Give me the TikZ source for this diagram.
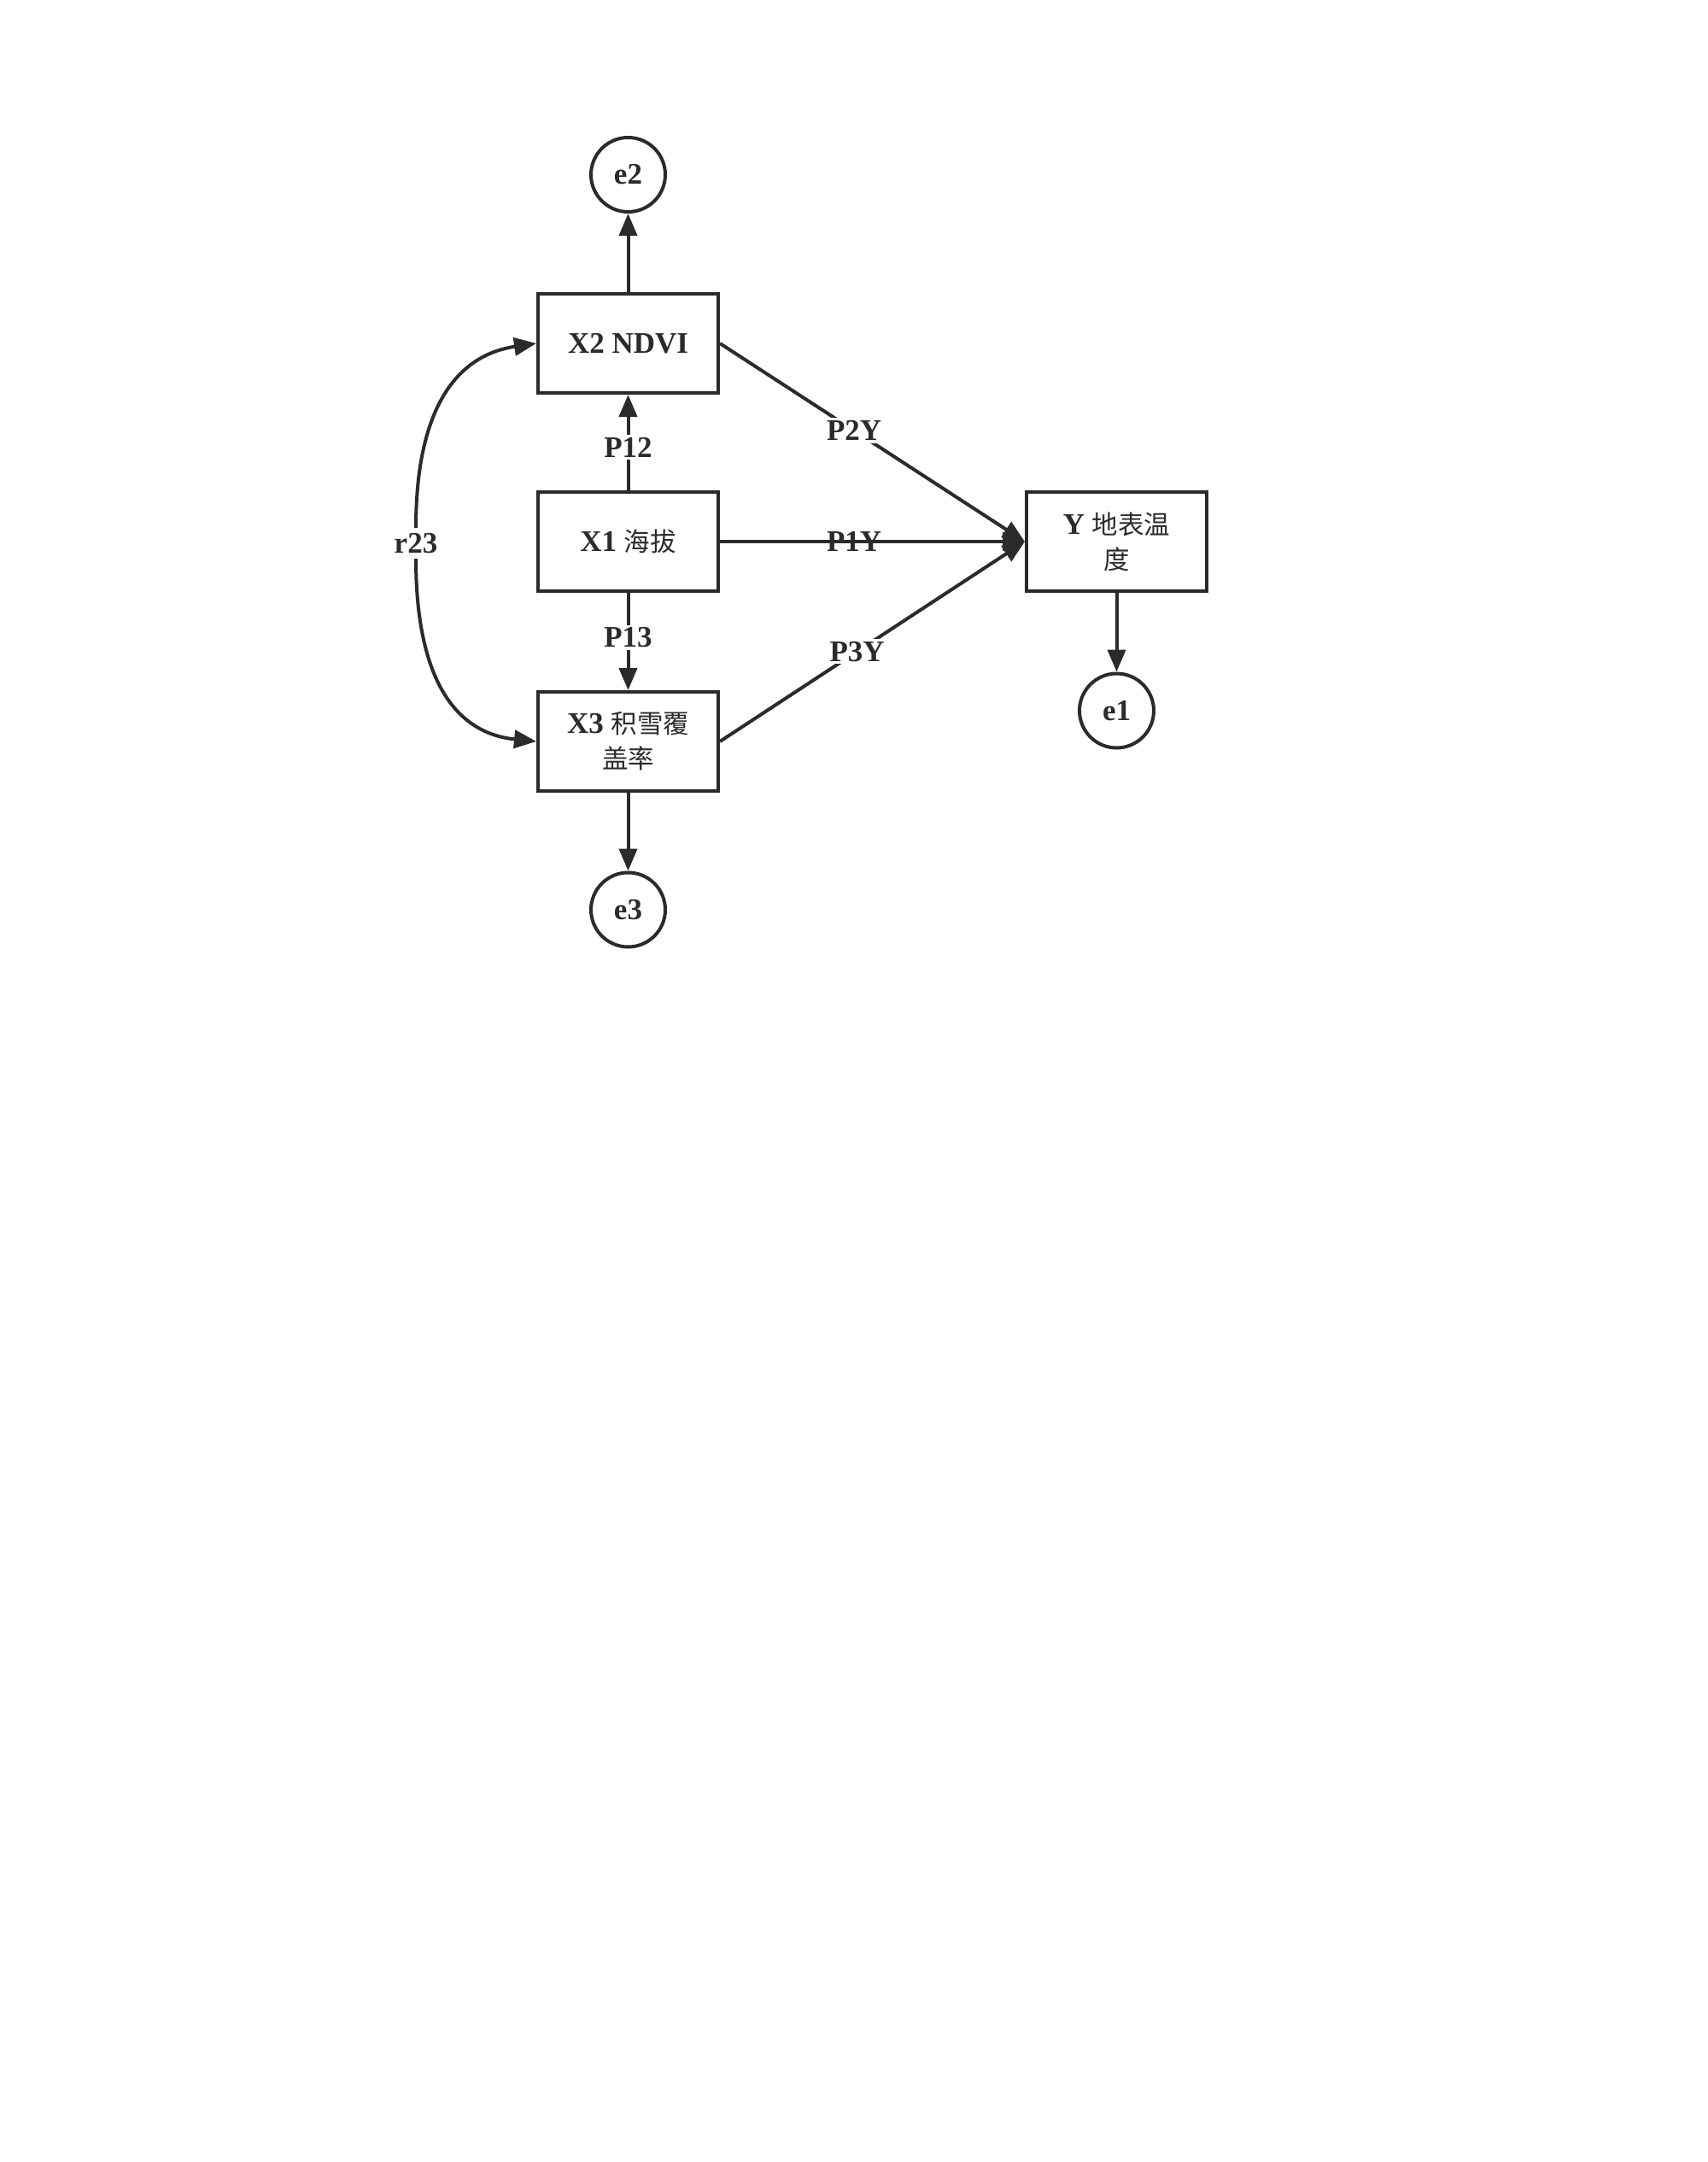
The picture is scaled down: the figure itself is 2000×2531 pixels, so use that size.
\documentclass[tikz,border=0pt]{standalone}
\usepackage{fontspec}
\setmainfont{Liberation Serif}
\newfontfamily\cjk[Scale=0.87]{Noto Sans CJK SC}
\usetikzlibrary{arrows.meta,shapes.geometric}
\definecolor{lc}{HTML}{2B2B2B}
\tikzset{
  box/.style={draw=lc, line width=2pt, minimum width=105.5pt, minimum height=58pt, align=center, inner sep=2pt, text=lc, font=\fontsize{17.5}{20.5}\selectfont\bfseries},
  err/.style={draw=lc, line width=2pt, circle, minimum size=43.5pt, inner sep=0pt, text=lc, font=\fontsize{17.5}{20.5}\selectfont\bfseries},
  lbl/.style={fill=white, inner sep=1.5pt, text=lc, font=\fontsize{17.5}{20.5}\selectfont\bfseries},
  con/.style={draw=lc, line width=2pt, -{Triangle[length=13pt,width=10.5pt]}},
}
\begin{document}
\begin{tikzpicture}[x=0.5pt,y=-0.5pt]
\useasboundingbox[fill=white] (0,0) rectangle (2000,2531);
% boxes
\node[box] (x2) at (735.5,402) {X2 NDVI};
\node[box] (x1) at (735.5,634) {X1 {\cjk\mdseries 海拔}};
\node[box] (x3) at (735.5,868) {X3 {\cjk\mdseries 积雪覆}\\{\cjk\mdseries 盖率}};
\node[box] (y) at (1307.5,634) {Y {\cjk\mdseries 地表温}\\{\cjk\mdseries 度}};
% error terms
\node[err] (e2) at (735.5,204.5) {e2};
\node[err] (e3) at (735.5,1065) {e3};
\node[err] (e1) at (1307.5,832) {e1};
% connectors
\draw[con] (x2) -- (e2);
\draw[con] (x3) -- (e3);
\draw[con] (y) -- (e1);
\draw[con] (x1) -- node[lbl, pos=0.45] {P12} (x2);
\draw[con] (x1) -- node[lbl, pos=0.46] {P13} (x3);
\draw[con] (x2.east) -- node[lbl, pos=0.44] {P2Y} (y.west);
\draw[con] (x1.east) -- node[text=lc, inner sep=0pt, font=\fontsize{17.5}{20.5}\selectfont\bfseries, pos=0.44] {P1Y} (y.west);
\draw[con] (x3.east) -- node[lbl, pos=0.45] {P3Y} (y.west);
% correlation
\node[lbl, inner sep=3pt] (r23) at (487,636) {r23};
\draw[con] (r23.north) .. controls (487,470) and (540,415) .. (x2.west);
\draw[con] (r23.south) .. controls (487,790) and (530,858) .. (x3.west);
\end{tikzpicture}
\end{document}
